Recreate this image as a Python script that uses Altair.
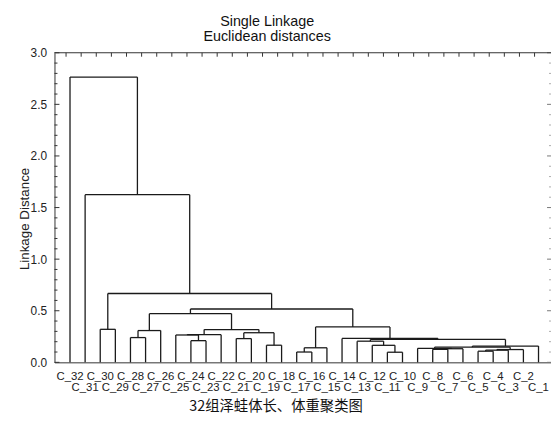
import altair as alt
import pandas as pd

# ---------------- data ----------------
leaves = ["C_32", "C_31", "C_30", "C_29", "C_28", "C_27", "C_26", "C_25",
          "C_24", "C_23", "C_22", "C_21", "C_20", "C_19", "C_18", "C_17",
          "C_16", "C_15", "C_14", "C_13", "C_12", "C_11", "C_10", "C_9",
          "C_8", "C_7", "C_6", "C_5", "C_4", "C_3", "C_2", "C_1"]

# merge k creates node "m{k}"
merge_left = ["C_17", "C_11", "C_5", "m2", "m3", "C_8", "m5", "C_9", "m0", "m7",
              "C_19", "C_12", "m9", "C_13", "C_24", "C_21", "m13", "C_14", "C_28",
              "C_25", "m19", "m15", "m18", "C_30", "m20", "m8", "m22", "m26",
              "m23", "C_31", "C_32"]
merge_right = ["C_16", "C_10", "C_4", "C_3", "C_2", "C_7", "C_6", "m6", "C_15", "m4",
               "C_18", "m1", "C_1", "m11", "C_23", "C_20", "m12", "m16", "C_27",
               "m14", "C_22", "m10", "C_26", "C_29", "m21", "m17", "m24", "m25",
               "m27", "m28", "m29"]
merge_height = [0.100, 0.098, 0.108, 0.118, 0.124, 0.126, 0.132, 0.136, 0.141, 0.147,
                0.166, 0.165, 0.158, 0.205, 0.210, 0.230, 0.222, 0.232, 0.240,
                0.265, 0.268, 0.287, 0.308, 0.320, 0.318, 0.343, 0.472, 0.517,
                0.667, 1.625, 2.764]

major_ticks = [0.0, 0.5, 1.0, 1.5, 2.0, 2.5, 3.0]
minor_ticks = [0.1, 0.2, 0.3, 0.4, 0.6, 0.7, 0.8, 0.9, 1.1, 1.2, 1.3, 1.4,
               1.6, 1.7, 1.8, 1.9, 2.1, 2.2, 2.3, 2.4, 2.6, 2.7, 2.8, 2.9]

title_lines = ["Single Linkage", "Euclidean distances"]
y_title = "Linkage Distance"
caption = "32组泽蛙体长、体重聚类图"

# ---------------- build dendrogram segments ----------------
pos = {name: i for i, name in enumerate(leaves)}
hgt = {name: 0.0 for name in leaves}
segs = []
for k, (l, r, d) in enumerate(zip(merge_left, merge_right, merge_height)):
    xl, xr = pos[l], pos[r]
    segs.append({"x": xl, "x2": xl, "y": hgt[l], "y2": d})
    segs.append({"x": xr, "x2": xr, "y": hgt[r], "y2": d})
    segs.append({"x": xl, "x2": xr, "y": d, "y2": d})
    pos[f"m{k}"] = (xl + xr) / 2
    hgt[f"m{k}"] = d
seg_df = pd.DataFrame(segs)

leaf_df = pd.DataFrame({"idx": list(range(len(leaves))), "label": leaves})
leaf_df["row"] = leaf_df["idx"] % 2

W, H = 502, 313
FONT = "Liberation Sans"
xscale = alt.Scale(domain=[-1.027, 31.826], nice=False, zero=False)
yscale = alt.Scale(domain=[0, 3], nice=False, zero=False)

xaxis = alt.Axis(labels=False, ticks=False, domain=True, grid=False,
                 title=None, domainColor="#333", domainWidth=1)
yaxis = alt.Axis(values=major_ticks, format=".1f", ticks=False, grid=False,
                 domain=True, domainColor="#333", domainWidth=1, title=None,
                 labelFont=FONT, labelFontSize=12, labelColor="#222",
                 labelPadding=8)

lines = alt.Chart(seg_df).mark_rule(color="#1a1a1a", strokeWidth=1.3).encode(
    x=alt.X("x:Q", scale=xscale, axis=xaxis),
    x2="x2:Q",
    y=alt.Y("y:Q", scale=yscale, axis=yaxis),
    y2="y2:Q",
)

maj_df = pd.DataFrame({"v": major_ticks})
min_df = pd.DataFrame({"v": minor_ticks})
left_major = alt.Chart(maj_df).mark_rule(color="#333").encode(
    y=alt.Y("v:Q", scale=yscale, axis=yaxis), x=alt.value(0), x2=alt.value(5))
left_minor = alt.Chart(min_df).mark_rule(color="#333").encode(
    y=alt.Y("v:Q", scale=yscale, axis=yaxis), x=alt.value(0), x2=alt.value(3))
right_major = alt.Chart(maj_df).mark_rule(color="#777").encode(
    y=alt.Y("v:Q", scale=yscale, axis=yaxis), x=alt.value(W - 4), x2=alt.value(W))
right_minor = alt.Chart(min_df).mark_rule(color="#aaa").encode(
    y=alt.Y("v:Q", scale=yscale, axis=yaxis), x=alt.value(W - 2), x2=alt.value(W))

top_line = alt.Chart(pd.DataFrame({"a": [0]})).mark_rule(color="#333").encode(
    x=alt.value(0), x2=alt.value(W), y=alt.value(0))
top_ticks = alt.Chart(leaf_df).mark_rule(color="#333", xOffset=-4).encode(
    x=alt.X("idx:Q", scale=xscale, axis=xaxis), y=alt.value(0), y2=alt.value(4))

lab_top = alt.Chart(leaf_df).transform_filter("datum.row == 0").mark_text(
    font=FONT, fontSize=11.5, color="#222", baseline="middle").encode(
    x=alt.X("idx:Q", scale=xscale, axis=xaxis), y=alt.value(H + 14.5), text="label:N")
lab_bot = alt.Chart(leaf_df).transform_filter("datum.row == 1").mark_text(
    font=FONT, fontSize=11.5, color="#222", baseline="middle").encode(
    x=alt.X("idx:Q", scale=xscale, axis=xaxis), y=alt.value(H + 26), text="label:N")

t1 = alt.Chart(pd.DataFrame({"t": [title_lines[0]]})).mark_text(
    font=FONT, fontSize=14.5, color="#111", baseline="middle").encode(
    x=alt.value(215), y=alt.value(-31.5), text="t:N")
t2 = alt.Chart(pd.DataFrame({"t": [title_lines[1]]})).mark_text(
    font=FONT, fontSize=14.5, color="#111", baseline="middle").encode(
    x=alt.value(215), y=alt.value(-16), text="t:N")
yt = alt.Chart(pd.DataFrame({"t": [y_title]})).mark_text(
    font=FONT, fontSize=13.5, color="#222", baseline="middle", angle=270).encode(
    x=alt.value(-30), y=alt.value(168), text="t:N")
cap = alt.Chart(pd.DataFrame({"t": [caption]})).mark_text(
    font="Noto Sans CJK SC", fontSize=14.5, color="#111", baseline="middle").encode(
    x=alt.value(224), y=alt.value(H + 45), text="t:N")

chart = alt.layer(
    lines, left_major, left_minor, right_major, right_minor, top_line, top_ticks,
    lab_top, lab_bot, t1, t2, yt, cap
).properties(
    width=W, height=H,
    autosize=alt.AutoSizeParams(type="none"),
    padding={"left": 47, "top": 43, "right": 0, "bottom": 52},
    background="white",
).configure_view(stroke=None)

chart.save("out.html", embed_options={"renderer": "svg", "actions": False})
